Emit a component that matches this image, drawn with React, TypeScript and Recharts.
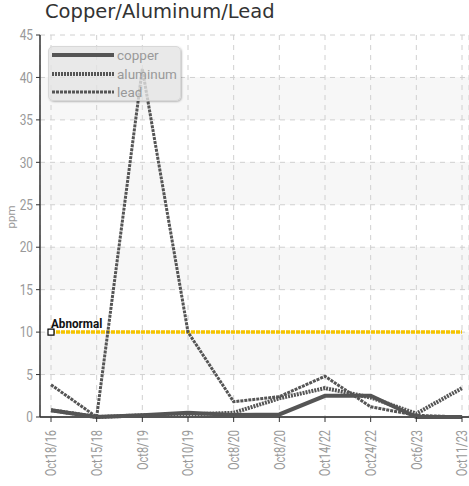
import React from "react";
import { LineChart, Line, XAxis, YAxis, CartesianGrid, Legend } from "recharts";

const categories = ["Oct18/16", "Oct15/18", "Oct8/19", "Oct10/19", "Oct8/20", "Oct8/20", "Oct14/22", "Oct24/22", "Oct6/23", "Oct11/23"];
const copper = [0.8, 0, 0.2, 0.5, 0.25, 0.3, 2.5, 2.5, 0, 0];
const aluminum = [0.8, 0, 0.2, 0.3, 0.5, 2.2, 3.4, 2.3, 0.4, 3.4];
const lead = [3.8, 0, 41, 10, 1.8, 2.4, 4.8, 1.2, 0.2, 0];
const abnormal = [10, 10, 10, 10, 10, 10, 10, 10, 10, 10];
const yTicks = [0, 5, 10, 15, 20, 25, 30, 35, 40, 45];

const data = categories.map((c, i) => ({
  idx: i,
  label: c,
  copper: copper[i],
  aluminum: aluminum[i],
  lead: lead[i],
  abnormal: abnormal[i],
}));

const FONT = "Roboto, sans-serif";

const seriesStyles: Record<string, { w: number; dash?: string; color: string }> = {
  copper: { w: 4, color: "#555" },
  aluminum: { w: 4, dash: "2 1", color: "#555" },
  lead: { w: 3, dash: "3 1", color: "#555" },
};

const XTick = (props: any) => {
  const { x, y, payload } = props;
  return (
    <text
      x={0}
      y={0}
      transform={`translate(${x},${y + 6}) rotate(-90) scale(0.76,1)`}
      textAnchor="end"
      dy="0.36em"
      fill="#999"
      fontSize={14.5}
      fontFamily={FONT}
    >
      {categories[payload.value]}
    </text>
  );
};

const YTick = (props: any) => {
  const { x, y, payload } = props;
  return (
    <text
      x={0}
      y={0}
      transform={`translate(${x - 1},${y}) scale(0.82,1)`}
      textAnchor="end"
      dy="0.36em"
      fill="#999"
      fontSize={14.5}
      fontFamily={FONT}
    >
      {payload.value}
    </text>
  );
};

const AbnormalDot = (props: any) => {
  const { cx, cy, index } = props;
  if (index !== 0) return <g key={`ad-${index}`} />;
  return (
    <g key={`ad-${index}`}>
      <rect x={cx - 3} y={cy - 3} width={6} height={6} fill="#fff" stroke="#000" strokeWidth={1.2} />
      <text
        x={0}
        y={0}
        transform={`translate(${cx},${cy - 4}) scale(0.9,1)`}
        fontSize={13}
        fontWeight="bold"
        fill="#111"
        fontFamily={FONT}
      >
        Abnormal
      </text>
    </g>
  );
};

const LegendContent = () => {
  const items = ["copper", "aluminum", "lead"];
  return (
    <div
      style={{
        width: 133,
        height: 55,
        background: "rgba(228,228,228,0.8)",
        border: "1px solid #d8d8d8",
        borderRadius: 5,
        boxShadow: "1px 1px 2px rgba(0,0,0,0.25)",
        boxSizing: "border-box",
        position: "relative",
      }}
    >
      {items.map((k, i) => {
        const s = seriesStyles[k];
        return (
          <div key={k} style={{ position: "absolute", left: 3, top: 0 + i * 18.5, height: 16, display: "flex", alignItems: "center" }}>
            <svg width={62} height={8}>
              <line x1={0} y1={4} x2={62} y2={4} stroke={s.color} strokeWidth={s.w} strokeDasharray={s.dash} />
            </svg>
            <span style={{ marginLeft: 3, fontSize: 13.5, color: "#999", fontFamily: FONT, lineHeight: "16px" }}>{k}</span>
          </div>
        );
      })}
    </div>
  );
};

export default function App() {
  return (
    <div style={{ position: "absolute", left: 0, top: 0, width: 469, height: 486, background: "#fff" }}>
      <div
        style={{
          position: "absolute",
          left: 45,
          top: -1,
          fontSize: 19.5,
          fontFamily: '"DejaVu Sans", Verdana, sans-serif',
          color: "#333",
          lineHeight: "26px",
          whiteSpace: "nowrap",
        }}
      >
        Copper/Aluminum/Lead
      </div>
      <div
        style={{
          position: "absolute",
          left: -4,
          top: 210,
          width: 30,
          height: 14,
          textAlign: "center",
          lineHeight: "14px",
          transform: "rotate(-90deg)",
          transformOrigin: "center",
          fontSize: 11.5,
          color: "#999",
          fontFamily: FONT,
        }}
      >
        ppm
      </div>
      <LineChart width={469} height={486} data={data} margin={{ top: 35, right: 0, bottom: 0, left: 0 }}>
        <CartesianGrid
          stroke="#d0d0d0"
          strokeDasharray="5 5"
          horizontalFill={["#ffffff", "#f7f7f7"]}
          fillOpacity={1}
        />
        <XAxis
          dataKey="idx"
          type="category"
          height={69}
          padding={{ left: 11, right: 7 }}
          tick={<XTick />}
          interval={0}
          axisLine={{ stroke: "#555", strokeWidth: 2 }}
          tickLine={{ stroke: "#333" }}
          tickSize={5}
        />
        <YAxis
          width={40}
          domain={[0, 45]}
          ticks={yTicks}
          interval={0}
          axisLine={{ stroke: "#333", strokeWidth: 1.5 }}
          tickLine={{ stroke: "#333" }}
          tickSize={4}
          tick={<YTick />}
        />
        <Legend
          layout="vertical"
          align="center"
          verticalAlign="middle"
          content={<LegendContent />}
          wrapperStyle={{ position: "absolute", left: 48, top: 46, width: 133, height: 55 }}
        />
        <Line
          dataKey="abnormal"
          stroke="#f5c400"
          strokeWidth={3.5}
          strokeDasharray="4 1"
          dot={<AbnormalDot />}
          activeDot={false}
          legendType="none"
          isAnimationActive={false}
        />
        <Line dataKey="copper" stroke="#555" strokeWidth={4} dot={false} isAnimationActive={false} />
        <Line dataKey="aluminum" stroke="#555" strokeWidth={4} strokeDasharray="2 1" dot={false} isAnimationActive={false} />
        <Line dataKey="lead" stroke="#555" strokeWidth={3} strokeDasharray="3 1" dot={false} isAnimationActive={false} />
      </LineChart>
    </div>
  );
}
